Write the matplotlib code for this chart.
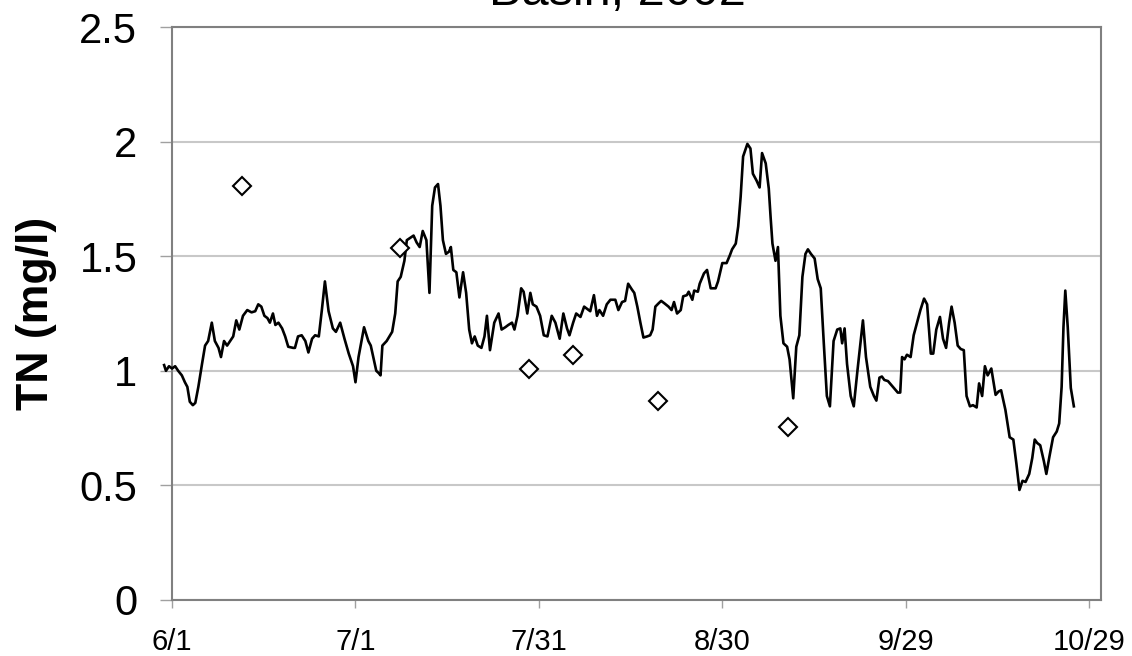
import matplotlib.pyplot as plt

plt.rcParams['font.family'] = ['Liberation Sans', 'DejaVu Sans']

# continuous TN record, x = days after 6/1
days = [-1.3, -1.0, -0.5, 0.0, 0.5, 1.0, 1.6, 2.1, 2.5, 2.9, 3.4, 3.8, 4.3, 4.9, 5.4, 5.9,
        6.5, 7.0, 7.6, 8.0, 8.5, 9.0, 9.5, 10.0, 10.5, 11.0, 11.6, 12.3, 13.0, 13.6, 14.1,
        14.6, 15.1, 15.6, 16.0, 16.5, 16.9, 17.4, 18.0, 18.5, 19.0, 19.8, 20.1, 20.6, 21.2,
        21.8, 22.3, 22.9, 23.4, 24.0, 24.5, 25.0, 25.6, 26.3, 26.8, 27.5, 28.2, 28.9, 29.6,
        30.0, 30.5, 31.4, 32.1, 32.5, 33.0, 33.4, 33.8, 34.1, 34.4, 35.1, 36.0, 36.5, 36.9,
        37.4, 38.0, 38.4, 38.95, 39.5, 40.0, 40.5, 41.0, 41.6, 42.1, 42.55, 43.0, 43.5, 43.9,
        44.3, 44.8, 45.3, 45.6, 46.0, 46.5, 47.0, 47.6, 48.1, 48.6, 49.05, 49.5, 50.0, 50.6,
        51.1, 51.5, 52.0, 52.7, 53.4, 53.9, 54.5, 55.0, 55.6, 56.0, 56.5, 57.1, 57.5, 58.1,
        58.6, 59.0, 59.6, 60.2, 60.8, 61.4, 62.1, 62.7, 63.4, 64.0, 64.6, 65.0, 65.6, 66.1,
        66.8, 67.4, 67.9, 68.4, 69.0, 69.5, 69.9, 70.5, 71.1, 71.7, 72.5, 73.0, 73.6, 74.1,
        74.6, 75.2, 75.6, 76.1, 76.6, 77.1, 77.7, 78.2, 78.6, 79.05, 79.6, 80.0, 80.5, 81.2,
        81.7, 82.1, 82.6, 83.2, 83.6, 84.2, 84.5, 85.1, 85.4, 86.0, 86.3, 87.0, 87.5, 88.1,
        88.9, 89.3, 90.0, 90.7, 91.25, 91.6, 92.2, 92.6, 93.0, 93.4, 94.1, 94.6, 95.0, 95.6,
        96.1, 96.5, 97.1, 97.6, 97.9, 98.2, 98.7, 99.1, 99.5, 100.0, 100.6, 101.0, 101.6,
        102.1, 102.6, 103.1, 103.6, 104.0, 104.5, 105.1, 105.6, 106.1, 106.6, 107.1, 107.6,
        108.2, 108.8, 109.3, 109.6, 110.0, 110.4, 111.0, 111.5, 112.1, 112.6, 113.0, 113.5,
        114.2, 114.8, 115.2, 115.7, 116.1, 116.5, 117.1, 117.9, 118.7, 119.1, 119.4, 119.8,
        120.2, 120.8, 121.3, 121.9, 122.4, 123.0, 123.5, 124.1, 124.5, 125.0, 125.6, 126.1,
        126.6, 127.1, 127.5, 128.0, 128.5, 129.0, 129.5, 129.95, 130.5, 131.0, 131.6, 132.0,
        132.5, 132.95, 133.4, 134.0, 134.7, 135.2, 135.6, 136.3, 137.0, 137.6, 138.1, 138.6,
        139.1, 139.6, 140.2, 140.7, 141.1, 141.5, 142.0, 142.6, 143.0, 143.5, 144.1, 144.7,
        145.1, 145.5, 145.8, 146.1, 146.5, 147.0, 147.5]
tn = [1.025, 1.00, 1.02, 1.01, 1.02, 1.00, 0.98, 0.95, 0.93, 0.865, 0.85, 0.86, 0.93, 1.03,
      1.11, 1.13, 1.21, 1.13, 1.10, 1.06, 1.13, 1.11, 1.13, 1.15, 1.22, 1.18, 1.24, 1.265,
      1.255, 1.26, 1.29, 1.28, 1.24, 1.23, 1.21, 1.25, 1.20, 1.21, 1.185, 1.15, 1.105, 1.10,
      1.10, 1.15, 1.155, 1.13, 1.08, 1.14, 1.155, 1.15, 1.265, 1.39, 1.26, 1.185, 1.17, 1.21,
      1.14, 1.075, 1.02, 0.95, 1.06, 1.19, 1.13, 1.11, 1.05, 1.00, 0.99, 0.98, 1.11, 1.13,
      1.17, 1.25, 1.39, 1.41, 1.48, 1.57, 1.58, 1.59, 1.56, 1.54, 1.61, 1.57, 1.34, 1.72,
      1.80, 1.815, 1.72, 1.57, 1.51, 1.52, 1.54, 1.44, 1.43, 1.32, 1.43, 1.34, 1.18, 1.12,
      1.15, 1.11, 1.10, 1.15, 1.24, 1.09, 1.21, 1.25, 1.18, 1.19, 1.20, 1.21, 1.18, 1.24,
      1.36, 1.345, 1.25, 1.34, 1.29, 1.28, 1.24, 1.155, 1.15, 1.24, 1.21, 1.14, 1.25, 1.185,
      1.155, 1.21, 1.25, 1.235, 1.28, 1.27, 1.26, 1.33, 1.24, 1.265, 1.24, 1.29, 1.31, 1.31,
      1.265, 1.30, 1.305, 1.38, 1.355, 1.34, 1.28, 1.21, 1.145, 1.15, 1.155, 1.18, 1.28,
      1.295, 1.305, 1.295, 1.28, 1.265, 1.30, 1.25, 1.265, 1.325, 1.33, 1.345, 1.31, 1.35,
      1.345, 1.38, 1.425, 1.44, 1.36, 1.36, 1.39, 1.47, 1.47, 1.505, 1.53, 1.555, 1.63, 1.76,
      1.935, 1.99, 1.97, 1.86, 1.83, 1.80, 1.95, 1.905, 1.795, 1.67, 1.555, 1.48, 1.54, 1.24,
      1.12, 1.105, 1.05, 0.88, 1.105, 1.155, 1.41, 1.51, 1.53, 1.51, 1.49, 1.40, 1.36, 1.12,
      0.89, 0.845, 1.13, 1.18, 1.185, 1.12, 1.185, 1.03, 0.89, 0.845, 1.00, 1.12, 1.22, 1.06,
      0.93, 0.89, 0.87, 0.97, 0.975, 0.96, 0.955, 0.93, 0.905, 0.905, 1.06, 1.05, 1.07, 1.06,
      1.155, 1.215, 1.265, 1.315, 1.29, 1.075, 1.075, 1.18, 1.235, 1.14, 1.10, 1.21, 1.28,
      1.21, 1.11, 1.095, 1.09, 0.89, 0.845, 0.85, 0.84, 0.945, 0.89, 1.02, 0.98, 1.01, 0.895,
      0.91, 0.915, 0.83, 0.71, 0.70, 0.595, 0.48, 0.52, 0.515, 0.55, 0.62, 0.70, 0.685, 0.675,
      0.605, 0.55, 0.625, 0.71, 0.735, 0.77, 0.93, 1.19, 1.35, 1.19, 0.925, 0.845]

# grab samples
sample_days = [11.5, 37.3, 58.4, 65.5, 79.4, 100.7]
sample_tn = [1.806, 1.536, 1.008, 1.069, 0.868, 0.755]

tick_days = [0, 30, 60, 90, 120, 150]
tick_labels = ['6/1', '7/1', '7/31', '8/30', '9/29', '10/29']

fig = plt.figure(figsize=(11.32, 6.56), dpi=100)
ax = fig.add_axes([0.152, 0.0854, 0.8204, 0.8734])

ax.plot(days, tn, color='black', lw=1.9, clip_on=False, zorder=3)
ax.plot(sample_days, sample_tn, linestyle='none', marker='D', markersize=9,
        markerfacecolor='white', markeredgecolor='black', markeredgewidth=1.5, zorder=4)

ax.set_xlim(0, 151.9)
ax.set_ylim(0, 2.5)
ax.set_xticks(tick_days)
ax.set_xticklabels(tick_labels)
ax.set_yticks([0, 0.5, 1, 1.5, 2, 2.5])
ax.set_yticklabels(['0', '0.5', '1', '1.5', '2', '2.5'])

ax.yaxis.grid(True, color='#c8c8c8', lw=1.5)
ax.set_axisbelow(True)
for s in ax.spines.values():
    s.set_color('#808080')
    s.set_linewidth(1.5)

ax.tick_params(axis='y', direction='out', length=9, width=1, color='#a0a0a0',
               labelsize=30, pad=16)
ax.tick_params(axis='x', direction='out', length=6, width=1, color='#a0a0a0',
               labelsize=21, pad=14)

ax.set_ylabel('TN (mg/l)', fontsize=32, fontweight='bold', labelpad=16)

# title sits partly above the canvas, as in the source image
fig.text(617 / 1132, 1 - 5 / 656, 'Basin, 2002', ha='center', va='baseline', fontsize=35)

fig.savefig('out.png', dpi=100)
